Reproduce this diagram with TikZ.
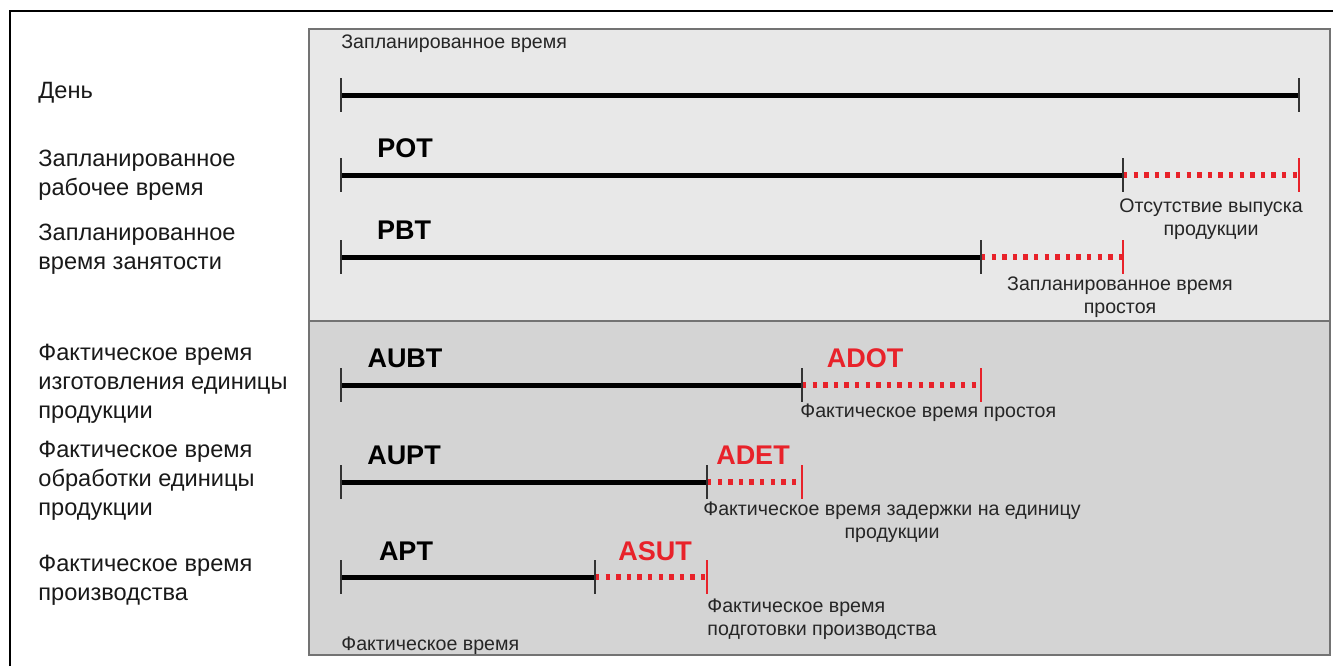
\documentclass[tikz,border=0pt]{standalone}
\usepackage{fontspec}
\setmainfont{Liberation Sans}
\usetikzlibrary{positioning}
\definecolor{idlered}{RGB}{232,34,42}
\newcommand{\tickat}[2][tick]{\draw[#1] (#2) ++(0,-17) -- ++(0,34);}

\begin{document}
\begin{tikzpicture}
	[
		x=0.5pt, y=-0.5pt,
		rowlabel/.style={anchor=west, align=left, inner sep=0pt, text=black!90, font=\fontsize{11.8}{14.5}\selectfont},
		note/.style={align=center, inner sep=0pt, text=black!85, font=\fontsize{9.8}{11.5}\selectfont},
		tag/.style={anchor=center, inner sep=0pt, font=\bfseries\fontsize{13.5}{15}\selectfont},
		redtag/.style={tag, text=idlered},
		busy/.style={line width=2.5pt},
		idle/.style={idlered, line width=2.6pt, dash pattern=on 2.2pt off 3.1pt},
		tick/.style={line width=0.6pt, black!80},
		redtick/.style={line width=0.6pt, idlered},
		planbox/.style={draw=black!55, fill=black!9, line width=0.8pt},
		actbox/.style={draw=black!55, fill=black!17, line width=0.8pt},
	]
	\useasboundingbox[fill=white] (0,0) rectangle (1333,666);

	\draw[line width=0.8pt] (10,666) -- (10,11) -- (1333,11);
	\draw[planbox] (309,29) rectangle (1330,321);
	\draw[actbox] (309,321) rectangle (1330,655);

	\coordinate (day0) at (341,95);
	\coordinate (day1) at (1299,95);
	\coordinate (pot0) at (341,175);
	\coordinate (pot1) at (1123,175);
	\coordinate (pot2) at (1299,175);
	\coordinate (pbt0) at (341,257);
	\coordinate (pbt1) at (981,257);
	\coordinate (pbt2) at (1123,257);
	\coordinate (aubt0) at (341,385);
	\coordinate (aubt1) at (802,385);
	\coordinate (aubt2) at (981,385);
	\coordinate (aupt0) at (341,482);
	\coordinate (aupt1) at (707,482);
	\coordinate (aupt2) at (802,482);
	\coordinate (apt0) at (341,577);
	\coordinate (apt1) at (595,577);
	\coordinate (apt2) at (707,577);

	\node[rowlabel] (daylbl) at (38,93) {День};
	\node[rowlabel] (potlbl) at (38,175) {Запланированное\\рабочее время};
	\node[rowlabel] (pbtlbl) at (38,249) {Запланированное\\время занятости};
	\node[rowlabel] (aubtlbl) at (38,384) {Фактическое время\\изготовления единицы\\продукции};
	\node[rowlabel] (auptlbl) at (38,481) {Фактическое время\\обработки единицы\\продукции};
	\node[rowlabel] (aptlbl) at (38,580) {Фактическое время\\производства};

	\node[tag] (pottag) at (405,148) {POT};
	\node[tag] (pbttag) at (404,230) {PBT};
	\node[tag] (aubttag) at (405,358) {AUBT};
	\node[tag] (aupttag) at (404,455) {AUPT};
	\node[tag] (apttag) at (406,551) {APT};
	\node[redtag] (adottag) at (865,358) {ADOT};
	\node[redtag] (adettag) at (753,455) {ADET};
	\node[redtag] (asuttag) at (655,551) {ASUT};

	\node[note, anchor=west] (plannedtxt) at (341,44) {Запланированное время};
	\node[note] (nooutput) at (1211,219) {Отсутствие выпуска\\продукции};
	\node[note] (plandown) at (1120,297) {Запланированное время\\простоя};
	\node[note, anchor=west] (actdown) at (800,413) {Фактическое время простоя};
	\node[note] (actdelay) at (892,522) {Фактическое время задержки на единицу\\продукции};
	\node[note, align=left, anchor=west] (actsetup) at (707,619) {Фактическое время\\подготовки производства};
	\node[note, anchor=west] (acttxt) at (341,646) {Фактическое время};

	\draw[busy] (day0) -- (day1);
	\draw[busy] (pot0) -- (pot1);
	\draw[idle] (pot1) -- (pot2);
	\draw[busy] (pbt0) -- (pbt1);
	\draw[idle] (pbt1) -- (pbt2);
	\draw[busy] (aubt0) -- (aubt1);
	\draw[idle] (aubt1) -- (aubt2);
	\draw[busy] (aupt0) -- (aupt1);
	\draw[idle] (aupt1) -- (aupt2);
	\draw[busy] (apt0) -- (apt1);
	\draw[idle] (apt1) -- (apt2);

	\tickat{day0} \tickat{day1}
	\tickat{pot0} \tickat{pot1} \tickat[redtick]{pot2}
	\tickat{pbt0} \tickat{pbt1} \tickat[redtick]{pbt2}
	\tickat{aubt0} \tickat{aubt1} \tickat[redtick]{aubt2}
	\tickat{aupt0} \tickat{aupt1} \tickat[redtick]{aupt2}
	\tickat{apt0} \tickat{apt1} \tickat[redtick]{apt2}
\end{tikzpicture}
\end{document}
